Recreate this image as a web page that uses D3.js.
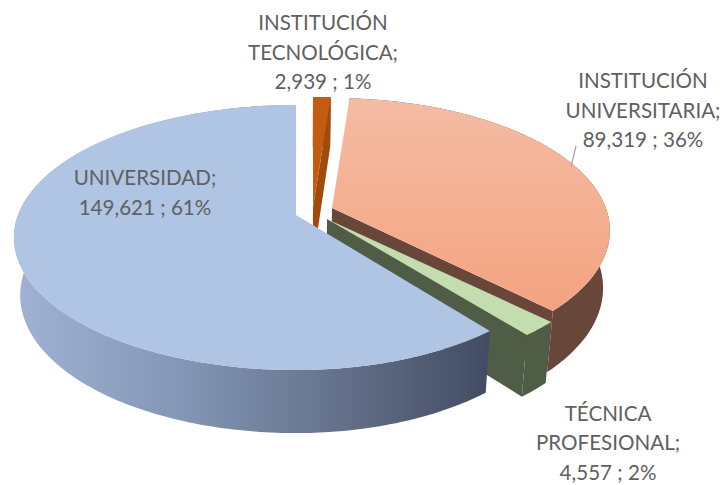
<!DOCTYPE html>
<html><head><meta charset="utf-8">
<script src="https://cdn.jsdelivr.net/npm/d3@7/dist/d3.min.js"></script>
<style>html,body{margin:0;padding:0;background:#fff}svg{display:block}</style>
</head><body>
<svg id="c" width="725" height="485"></svg>
<script>
const categories = ["INSTITUCIÓN TECNOLÓGICA", "INSTITUCIÓN UNIVERSITARIA", "TÉCNICA PROFESIONAL", "UNIVERSIDAD"];
const values = [2939, 89319, 4557, 149621];
const labelLines = [["INSTITUCIÓN","TECNOLÓGICA;"],["INSTITUCIÓN","UNIVERSITARIA;"],["TÉCNICA","PROFESIONAL;"],["UNIVERSIDAD;"]];

// layout only
const apex = [[313,207],[332,208],[327,219],[296,215]];
const rightScale = [1,0.985,1,0.97];
const topFill = ["#C55A11","url(#peach)","#C3DDAF","#B0C4E3"];
const wallFill = ["#A04A0C","#68473A","#4F5D47","url(#blueWall)"];
const labelPos = [[323,30],[643,88],[608,420.5],[145,185]];
const A = 278, B = 128.7, K = 0.17, VX = 300, VS = 0.978;

const svg = d3.select("#c");
const defs = svg.append("defs");
const g1 = defs.append("linearGradient").attr("id","peach").attr("gradientUnits","userSpaceOnUse")
  .attr("x1",0).attr("x2",0).attr("y1",100).attr("y2",312);
g1.append("stop").attr("offset",0).attr("stop-color","#F4BCA4");
g1.append("stop").attr("offset",1).attr("stop-color","#F4A380");
const g2 = defs.append("linearGradient").attr("id","blueWall").attr("gradientUnits","userSpaceOnUse")
  .attr("x1",18).attr("x2",490).attr("y1",0).attr("y2",0);
[[0,"#9FB2D3"],[0.35,"#8396B5"],[0.7,"#636F88"],[1,"#414C63"]].forEach(s=>
  g2.append("stop").attr("offset",s[0]).attr("stop-color",s[1]));

const pie = d3.pie().sort(null).value(d=>d).startAngle(0).endAngle(2*Math.PI);
const arcs = pie(values);
const total = d3.sum(values);
const line = d3.line();

function proj(i,th){
  const u=Math.sin(th), v=-Math.cos(th), w=1-K*v;
  const sx = u>0 ? rightScale[i] : 1;
  return [apex[i][0]+A*sx*u/w, apex[i][1]+B*v/w, v];
}
function drop(p,v){
  const d=56.5+6.5*v;
  return [VX+(p[0]-VX)*VS, p[1]+d];
}
function dropApex(i){ return drop(apex[i],0); }
const cross=(a,b)=>a[0]*b[1]-a[1]*b[0];

arcs.forEach((a,i)=>{
  const n=Math.max(4,Math.round((a.endAngle-a.startAngle)*60));
  const ths=d3.range(n+1).map(k=>a.startAngle+(a.endAngle-a.startAngle)*k/n);
  const rim=ths.map(t=>proj(i,t));
  const top=rim.map(p=>[p[0],p[1]]);
  const bot=rim.map(p=>drop(p,p[2]));
  const gS=svg.append("g").attr("class","slice").attr("data-name",categories[i]);
  // outer wall
  gS.append("path").attr("d",line(top.concat(bot.slice().reverse()))+"Z").attr("fill",wallFill[i]);
  // cut walls facing the viewer
  const Ap=apex[i], mid=proj(i,(a.startAngle+a.endAngle)/2);
  const M=[mid[0]-Ap[0],mid[1]-Ap[1]];
  [[0],[n]].forEach(([idx])=>{
    const P=[top[idx][0]-Ap[0],top[idx][1]-Ap[1]];
    const c=cross(P,[0,1]);
    if(Math.abs(c)>2 && Math.sign(c)!==Math.sign(cross(P,M))){
      gS.append("path").attr("d",line([Ap,top[idx],bot[idx],dropApex(i)])+"Z").attr("fill",wallFill[i]);
    }
  });
  // top
  gS.append("path").attr("d",line([Ap].concat(top))+"Z").attr("fill",topFill[i]);
});

// leader
svg.append("path").attr("d",line([[571,167],[576,146]])).attr("stroke","#A6A6A6").attr("stroke-width",1.3).attr("fill","none");

// labels
const fmt=d3.format(",");
categories.forEach((c,i)=>{
  const lines=labelLines[i].concat([fmt(values[i])+" ; "+Math.round(values[i]/total*100)+"%"]);
  const t=svg.append("text").attr("text-anchor","middle")
    .attr("font-family","Lato, Carlito, sans-serif").attr("font-size",20.6).attr("fill","#606060");
  lines.forEach((l,k)=>t.append("tspan").attr("x",labelPos[i][0]).attr("y",labelPos[i][1]+k*29.6).text(l));
});
</script>
</body></html>
